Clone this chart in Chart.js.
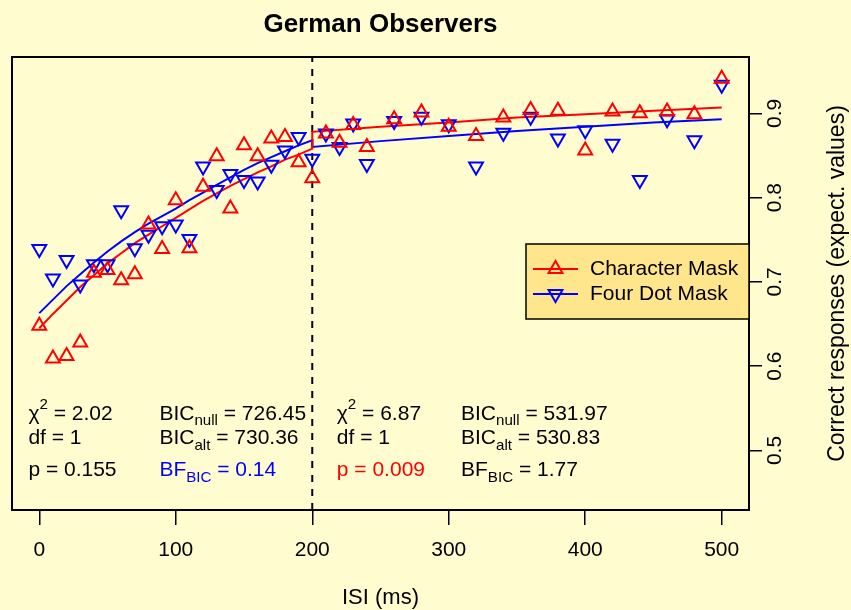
<!DOCTYPE html>
<html>
<head>
<meta charset="utf-8">
<script src="https://cdn.jsdelivr.net/npm/chart.js@4/dist/chart.umd.min.js"></script>
<style>
  html, body { margin: 0; padding: 0; background: #fffdd0; }
  #wrap { width: 851px; height: 610px; }
</style>
</head>
<body>
<div id="wrap"><canvas id="chart" width="851" height="610"></canvas></div>
<script>
// ── data ─────────────────────────────────────────────────
const isiLeft  = [0,10,20,30,40,50,60,70,80,90,100,110,120,130,140,150,160,170,180,190,200];
const isiRight = [210,220,230,240,260,280,300,320,340,360,380,400,420,440,460,480,500];

const charLeft  = [0.648,0.609,0.612,0.628,0.711,0.714,0.702,0.709,0.768,0.739,0.797,0.740,0.813,0.849,0.787,0.862,0.849,0.870,0.872,0.842,0.823];
const charRight = [0.876,0.865,0.886,0.860,0.893,0.901,0.884,0.873,0.895,0.904,0.903,0.856,0.902,0.900,0.902,0.899,0.941];
const dotLeft   = [0.739,0.704,0.726,0.697,0.721,0.721,0.785,0.740,0.756,0.766,0.768,0.751,0.837,0.809,0.828,0.821,0.819,0.839,0.856,0.872,0.846];
const dotRight  = [0.876,0.860,0.888,0.840,0.891,0.896,0.887,0.837,0.877,0.896,0.870,0.880,0.864,0.821,0.893,0.868,0.934];

// fitted curves (left and right of the 200 ms break)
const fitXLeft     = [0,10,20,30,40,50,60,70,80,90,100,110,120,130,140,150,160,170,180,190,200];
const fitCharLeft  = [0.645,0.662,0.678,0.694,0.708,0.722,0.734,0.746,0.756,0.766,0.776,0.786,0.796,0.805,0.814,0.822,0.830,0.837,0.845,0.851,0.858];
const fitDotLeft   = [0.663,0.679,0.695,0.709,0.723,0.736,0.748,0.759,0.769,0.778,0.787,0.797,0.806,0.815,0.824,0.833,0.841,0.848,0.855,0.862,0.868];
const fitXRight    = [200,250,300,350,400,450,500];
const fitCharRight = [0.878,0.884,0.889,0.895,0.899,0.903,0.907];
const fitDotRight  = [0.860,0.867,0.873,0.879,0.884,0.889,0.893];

const xTicks = [0,100,200,300,400,500];
const yTicks = [0.5,0.6,0.7,0.8,0.9];
const BREAK_X = 200;
const X_MIN = -20, X_MAX = 520;
const Y_MIN = 0.4294, Y_MAX = 0.9668;

const statsLeft  = { chi: '2.02', df: '1', p: '0.155', bicNull: '726.45', bicAlt: '730.36', bf: '0.14' };
const statsRight = { chi: '6.87', df: '1', p: '0.009', bicNull: '531.97', bicAlt: '530.83', bf: '1.77' };

const RED  = '#ff0000';
const BLUE = '#0000ff';
const FONT = '"Liberation Sans", Arial, Helvetica, sans-serif';

const pts = (xs, ys) => xs.map((x, i) => ({ x, y: ys[i] }));

// draws text with sub/superscripts, left aligned at baseline y
function mathText(ctx, parts, x, y, size, color) {
  ctx.fillStyle = color;
  ctx.textAlign = 'left';
  ctx.textBaseline = 'alphabetic';
  let cx = x;
  parts.forEach(p => {
    const s  = (p.sub || p.sup) ? size * 0.72 : size;
    const dy = p.sub ? size * 0.28 : p.sup ? -size * 0.5 : 0;
    ctx.font = s + 'px ' + FONT;
    ctx.fillText(p.t, cx, y + dy);
    cx += ctx.measureText(p.t).width;
  });
}

const decor = {
  id: 'decor',
  afterDraw(chart) {
    const { ctx, chartArea: a, scales: { x, y } } = chart;
    ctx.save();

    // plot box
    ctx.strokeStyle = '#000';
    ctx.lineWidth = 2;
    ctx.strokeRect(a.left, a.top, a.right - a.left, a.bottom - a.top);

    // title
    ctx.fillStyle = '#000';
    ctx.font = 'bold 26px ' + FONT;
    ctx.textAlign = 'center';
    ctx.textBaseline = 'alphabetic';
    ctx.fillText('German Observers', (a.left + a.right) / 2, 32);

    // x title
    ctx.font = '22px ' + FONT;
    ctx.textBaseline = 'middle';
    ctx.fillText('ISI (ms)', (a.left + a.right) / 2, 598);

    // right axis tick labels (rotated) + title
    ctx.font = '21px ' + FONT;
    yTicks.forEach(v => {
      ctx.save();
      ctx.translate(775, y.getPixelForValue(v));
      ctx.rotate(-Math.PI / 2);
      ctx.fillText(String(v), 0, 0);
      ctx.restore();
    });
    ctx.font = '23px ' + FONT;
    ctx.save();
    ctx.translate(838, (a.top + a.bottom) / 2);
    ctx.rotate(-Math.PI / 2);
    ctx.fillText('Correct responses (expect. values)', 0, 0);
    ctx.restore();

    // statistics text
    const cols = [-8, 88, 218, 309].map(v => x.getPixelForValue(v));
    const rows = [419.5, 444, 476];
    const block = (st, c1, c2, pCol, bfCol) => {
      mathText(ctx, [{ t: 'χ' }, { t: '2', sup: true }, { t: ' = ' + st.chi }], c1, rows[0], 21, '#000');
      mathText(ctx, [{ t: 'df = ' + st.df }], c1, rows[1], 21, '#000');
      mathText(ctx, [{ t: 'p = ' + st.p }], c1, rows[2], 21, pCol);
      mathText(ctx, [{ t: 'BIC' }, { t: 'null', sub: true }, { t: ' = ' + st.bicNull }], c2, rows[0], 21, '#000');
      mathText(ctx, [{ t: 'BIC' }, { t: 'alt', sub: true }, { t: ' = ' + st.bicAlt }], c2, rows[1], 21, '#000');
      mathText(ctx, [{ t: 'BF' }, { t: 'BIC', sub: true }, { t: ' = ' + st.bf }], c2, rows[2], 21, bfCol);
    };
    block(statsLeft, cols[0], cols[1], '#000', BLUE);
    block(statsRight, cols[2], cols[3], RED, '#000');

    // legend
    const lx = 526, ly = 244, lw = a.right - 526, lh = 75;
    ctx.fillStyle = '#ffe58c';
    ctx.fillRect(lx, ly, lw, lh);
    ctx.strokeStyle = '#000';
    ctx.lineWidth = 1.5;
    ctx.strokeRect(lx, ly, lw, lh);
    const items = [
      { label: 'Character Mask', color: RED, rot: 0, yy: 269 },
      { label: 'Four Dot Mask', color: BLUE, rot: 180, yy: 294 }
    ];
    items.forEach(it => {
      ctx.strokeStyle = it.color;
      ctx.lineWidth = 2;
      ctx.beginPath();
      ctx.moveTo(533, it.yy);
      ctx.lineTo(578, it.yy);
      ctx.stroke();
      ctx.fillStyle = 'rgba(0,0,0,0)';
      Chart.helpers.drawPoint(ctx, { pointStyle: 'triangle', rotation: it.rot, radius: 8, borderWidth: 2 }, 555.5, it.yy);
      ctx.fillStyle = '#000';
      ctx.font = '21px ' + FONT;
      ctx.textAlign = 'left';
      ctx.textBaseline = 'middle';
      ctx.fillText(it.label, 590, it.yy);
    });

    ctx.restore();
  }
};

const markers = (color, rot) => ({
  showLine: false,
  borderColor: color,
  pointStyle: 'triangle',
  pointRotation: rot,
  pointRadius: 8,
  pointHoverRadius: 8,
  pointBorderWidth: 2,
  pointBackgroundColor: 'rgba(0,0,0,0)',
  pointBorderColor: color
});

const curve = (color) => ({
  showLine: true,
  borderColor: color,
  borderWidth: 2,
  pointRadius: 0,
  fill: false
});

new Chart(document.getElementById('chart'), {
  type: 'scatter',
  data: {
    datasets: [
      { label: 'Character Mask', data: pts(isiLeft.concat(isiRight), charLeft.concat(charRight)), ...markers(RED, 0) },
      { label: 'Four Dot Mask',  data: pts(isiLeft.concat(isiRight), dotLeft.concat(dotRight)),   ...markers(BLUE, 180) },
      { label: 'fit char', data: pts(fitXLeft.concat(fitXRight), fitCharLeft.concat(fitCharRight)), ...curve(RED) },
      { label: 'fit dot',  data: pts(fitXLeft.concat(fitXRight), fitDotLeft.concat(fitDotRight)),   ...curve(BLUE) },
      { label: 'break', data: [{ x: BREAK_X, y: Y_MIN }, { x: BREAK_X, y: Y_MAX }],
        showLine: true, borderColor: '#000', borderWidth: 2, borderDash: [7, 7], pointRadius: 0 }
    ]
  },
  options: {
    responsive: false,
    animation: false,
    events: [],
    layout: { padding: { left: 12, top: 57, right: 0, bottom: 0 } },
    plugins: { legend: { display: false }, tooltip: { enabled: false } },
    scales: {
      x: {
        type: 'linear', min: X_MIN, max: X_MAX,
        afterBuildTicks: s => { s.ticks = xTicks.map(v => ({ value: v })); },
        afterFit: s => { s.height = 100; },
        ticks: { color: '#000', font: { family: FONT, size: 21 }, padding: 13, maxRotation: 0 },
        grid: { drawOnChartArea: false, drawTicks: true, tickLength: 15, color: '#000', lineWidth: 1.5 },
        border: { display: false }
      },
      y: {
        type: 'linear', position: 'right', min: Y_MIN, max: Y_MAX,
        afterBuildTicks: s => { s.ticks = yTicks.map(v => ({ value: v })); },
        afterFit: s => { s.width = 102; },
        ticks: { display: false },
        grid: { drawOnChartArea: false, drawTicks: true, tickLength: 13, color: '#000', lineWidth: 1.5 },
        border: { display: false }
      }
    }
  },
  plugins: [decor]
});
</script>
</body>
</html>
